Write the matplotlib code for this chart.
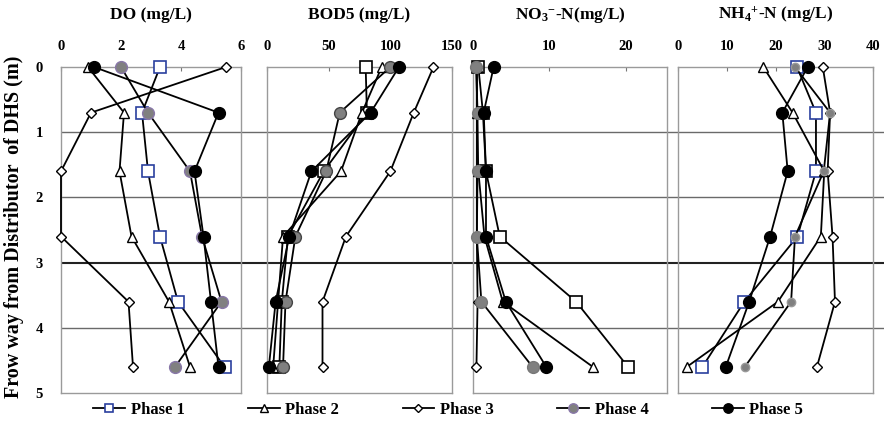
import matplotlib
matplotlib.use('Agg')
import matplotlib.pyplot as plt

plt.rcParams['font.family'] = ['Liberation Serif', 'DejaVu Serif']
plt.rcParams['font.weight'] = 'bold'
plt.rcParams['mathtext.fontset'] = 'custom'
plt.rcParams['mathtext.rm'] = 'Liberation Serif:bold'
plt.rcParams['mathtext.it'] = 'Liberation Serif:bold'
plt.rcParams['mathtext.bf'] = 'Liberation Serif:bold'

# depth below distributor (m)
depth = [0, 0.7, 1.6, 2.6, 3.6, 4.6]
phases = ['Phase 1', 'Phase 2', 'Phase 3', 'Phase 4', 'Phase 5']

# one list per phase, in depth order
do_vals = [[3.3, 2.7, 2.9, 3.3, 3.9, 5.45],
           [0.9, 2.1, 1.95, 2.35, 3.6, 4.3],
           [5.5, 1.0, 0.0, 0.0, 2.25, 2.4],
           [2.0, 2.9, 4.3, 4.7, 5.35, 3.8],
           [1.1, 5.25, 4.45, 4.75, 5.0, 5.25]]
bod_vals = [[80, 81, 46, 17, 12, 10],
            [93, 77, 60, 13, 9, 5],
            [135, 119, 100, 64, 45, 45],
            [100, 59, 48, 23, 15, 13],
            [107, 84, 36, 18, 7, 1.5]]
no3_vals = [[0.7, 1.3, 1.7, 3.5, 13.5, 20.3],
            [0.5, 0.5, 0.7, 1.5, 3.9, 15.7],
            [0.5, 0.5, 0.5, 0.5, 0.6, 0.45],
            [0.4, 0.6, 0.6, 0.5, 1.1, 7.8],
            [2.7, 1.4, 1.7, 1.7, 4.3, 9.6]]
nh4_vals = [[24.4, 28.3, 28.3, 24.5, 13.6, 5.0],
            [17.5, 23.5, 30, 29.3, 20.5, 1.8],
            [29.7, 31.2, 30.7, 31.7, 32.2, 28.5],
            [24, 31.2, 29.9, 24, 23.2, 13.7],
            [26.6, 21.4, 22.5, 18.9, 14.6, 9.8]]

titles = ['DO (mg/L)', 'BOD5 (mg/L)', r'NO$_3$$^{\mathbf{-}}$-N(mg/L)', r'NH$_4$$^{\mathbf{+}}$-N (mg/L)']
xlims = [(0, 6), (0, 150), (0, 25.4), (0, 40)]
xticks = [[0, 2, 4, 6], [0, 50, 100, 150], [0, 10, 20], [0, 10, 20, 30, 40]]
panel_data = [do_vals, bod_vals, no3_vals, nh4_vals]

W, H = 884, 426
fig = plt.figure(figsize=(W / 100, H / 100), dpi=100)
top, bot = 67, 393
panels_px = [(61, 241), (267, 452), (473, 667), (678, 873)]

def rect(x0, x1):
    return [x0 / W, 1 - bot / H, (x1 - x0) / W, (bot - top) / H]

# background axes: depth scale and the long horizontal rules
bg = fig.add_axes(rect(61, W))
bg.set_ylim(5, 0)
bg.set_xlim(0, 1)
for s in bg.spines.values():
    s.set_visible(False)
bg.set_xticks([])
bg.set_yticks([0, 1, 2, 3, 4, 5])
bg.tick_params(axis='y', length=0, pad=13, labelsize=10.5)
for d in [1, 2, 4]:
    bg.axhline(d, color='#6a6a6a', lw=1.0)
bg.axhline(3, color='#222222', lw=1.5)
bg.set_ylabel('Frow way from Distributor  of DHS (m)', fontsize=14.5, fontweight='bold')
bg.yaxis.set_label_coords(-0.045, 0.51)

sq_edge = ['#2a3f9e', 'black', 'black', '#2a3f9e']
gray_edge = ['#8877a8', '#444444', '#777777', '#999999']
gray_ms = [8.5, 8.5, 8.5, 6]

handles = []
for i, (vals, (x0, x1)) in enumerate(zip(panel_data, panels_px)):
    ax = fig.add_axes(rect(x0, x1))
    ax.set_facecolor('none')
    styles = [dict(marker='s', ms=8, mfc='white', mec=sq_edge[i], mew=1.2),
              dict(marker='^', ms=7.5, mfc='white', mec='black', mew=1.0),
              dict(marker='D', ms=5.5, mfc='white', mec='black', mew=1.0),
              dict(marker='o', ms=gray_ms[i], mfc='#808080', mec=gray_edge[i], mew=1.0),
              dict(marker='o', ms=8.5, mfc='black', mec='black', mew=1.0)]
    for j, (v, st) in enumerate(zip(vals, styles)):
        ln, = ax.plot(v, depth, color='black', lw=1.3, clip_on=False, zorder=3 + j,
                      label=phases[j], **st)
        if i == 0:
            handles.append(ln)
    ax.set_xlim(*xlims[i])
    ax.set_ylim(5, 0)
    ax.set_xticks(xticks[i])
    ax.set_yticks([])
    ax.xaxis.tick_top()
    ax.tick_params(axis='x', direction='in', length=3, pad=10, labelsize=10.5,
                   color='#777777')
    for s in ax.spines.values():
        s.set_color('#9a9a9a')
        s.set_linewidth(1.0)
    ax.text(0.5, 1 + (top - 15) / (bot - top), titles[i], transform=ax.transAxes,
            ha='center', va='center', fontsize=12.5, fontweight='bold')

fig.legend(handles, phases, loc='center', bbox_to_anchor=(0.507, 16 / H), ncol=5,
           frameon=False, fontsize=12, handlelength=1.9, handletextpad=0.35,
           columnspacing=3.8, markerscale=0.8)

fig.savefig('out.png', dpi=100)
